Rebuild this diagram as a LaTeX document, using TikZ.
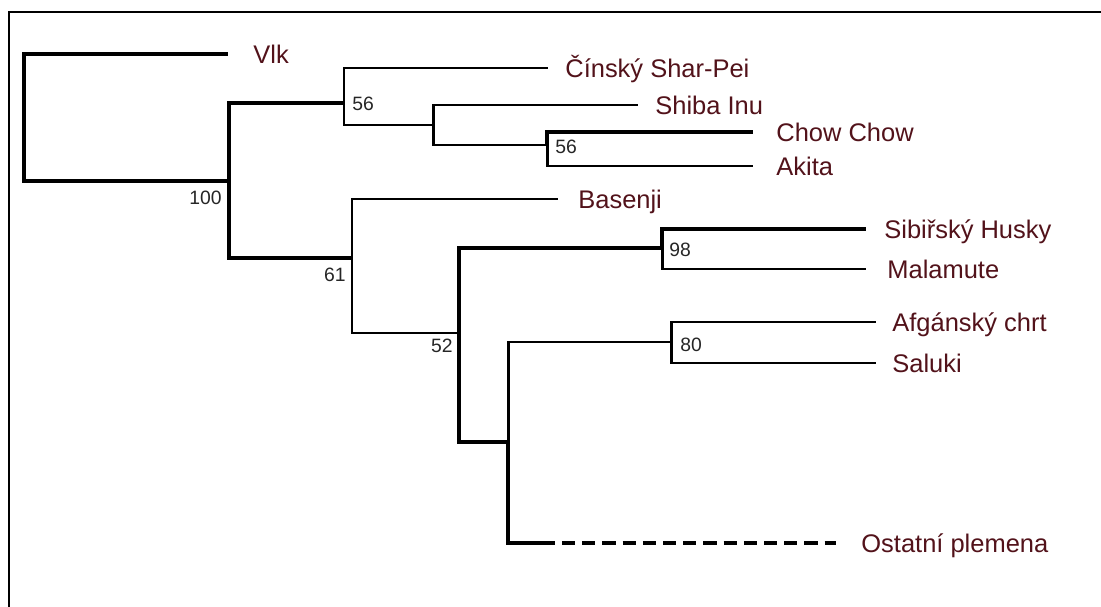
\documentclass[tikz,border=0pt]{standalone}
\usepackage{fontspec}
\setmainfont{Liberation Sans}
\usetikzlibrary{positioning}
\definecolor{breed}{RGB}{82,18,26}

\begin{document}
\begin{tikzpicture}[
  x=0.02cm, y=-0.02cm,
  branch/.style={line width=1.7pt},
  heavy/.style={line width=2.5pt},
  taxon/.style={anchor=west, inner sep=0pt, text height=10.4pt, text depth=0pt,
                text=breed, font=\fontsize{14.5}{16}\selectfont},
  support/.style={inner sep=0pt, text=black!85, font=\fontsize{11}{12}\selectfont},
]
  \useasboundingbox (0,0) rectangle (1101,607);
  % Frame
  \draw[line width=1.6pt] (9,607) |- (1101,12);

  % Inner nodes
  \coordinate (root) at (24,118);
  \coordinate (n100) at (229,181);
  \coordinate (n56a) at (344,103);
  \coordinate (n433) at (433,125);
  \coordinate (n56b) at (547,145);
  \coordinate (n61)  at (352,258);
  \coordinate (n52)  at (459,333);
  \coordinate (n98)  at (662,248);
  \coordinate (nIn)  at (508,442);
  \coordinate (n80)  at (671,342);

  % Branch tips
  \coordinate (tVlk)      at (228,54);
  \coordinate (tShar)     at (548,68);
  \coordinate (tShiba)    at (638,105);
  \coordinate (tChow)     at (753,132);
  \coordinate (tAkita)    at (753,166);
  \coordinate (tBasenji)  at (558,199);
  \coordinate (tHusky)    at (866,229);
  \coordinate (tMalamute) at (866,269);
  \coordinate (tAfg)      at (876,322);
  \coordinate (tSaluki)   at (876,363);
  \coordinate (oSolid)    at (555,543);
  \coordinate (oStart)    at (562,543);
  \coordinate (tOst)      at (836,543);

  % Breeds
  \node[taxon] (vlk)      at (253,54)  {Vlk};
  \node[taxon] (sharpei)  at (565,68)  {Čínský Shar-Pei};
  \node[taxon] (shiba)    at (655,105) {Shiba Inu};
  \node[taxon] (chow)     at (776,132) {Chow Chow};
  \node[taxon] (akita)    at (776,166) {Akita};
  \node[taxon] (basenji)  at (578,199) {Basenji};
  \node[taxon] (husky)    at (884,229) {Sibiřský Husky};
  \node[taxon] (malamute) at (887,269) {Malamute};
  \node[taxon] (afghan)   at (892,322) {Afgánský chrt};
  \node[taxon] (saluki)   at (892,363) {Saluki};
  \node[taxon] (ostatni)  at (861,543) {Ostatní plemena};

  % Bootstrap values
  \node[support, anchor=north east] (s100) at (222,191) {100};
  \node[support, anchor=north east] (s61)  at (346,268) {61};
  \node[support, anchor=north east] (s52)  at (453,339) {52};
  \node[support, anchor=west] (s56a) at (352,104) {56};
  \node[support, anchor=west] (s56b) at (555,147) {56};
  \node[support, anchor=west] (s98)  at (669,250) {98};
  \node[support, anchor=west] (s80)  at (680,345) {80};

  % Branches
  \draw[heavy]  (root) |- (tVlk);
  \draw[heavy]  (root) |- (n100);
  \draw[heavy]  (n100) |- (n56a);
  \draw[heavy]  (n100) |- (n61);
  \draw[branch] (n56a) |- (tShar);
  \draw[branch] (n56a) |- (n433);
  \draw[branch] (n433) |- (tShiba);
  \draw[branch] (n433) |- (n56b);
  \draw[heavy]  (n56b) |- (tChow);
  \draw[branch] (n56b) |- (tAkita);
  \draw[branch] (n61)  |- (tBasenji);
  \draw[branch] (n61)  |- (n52);
  \draw[heavy]  (n52)  |- (n98);
  \draw[heavy]  (n52)  |- (nIn);
  \draw[heavy]  (n98)  |- (tHusky);
  \draw[branch] (n98)  |- (tMalamute);
  \draw[branch] (nIn)  |- (n80);
  \draw[heavy]  (nIn)  |- (oSolid);
  \draw[heavy, dash pattern=on 7.5pt off 4pt] (oStart) -- (tOst);
  \draw[branch] (n80)  |- (tAfg);
  \draw[branch] (n80)  |- (tSaluki);
\end{tikzpicture}
\end{document}
